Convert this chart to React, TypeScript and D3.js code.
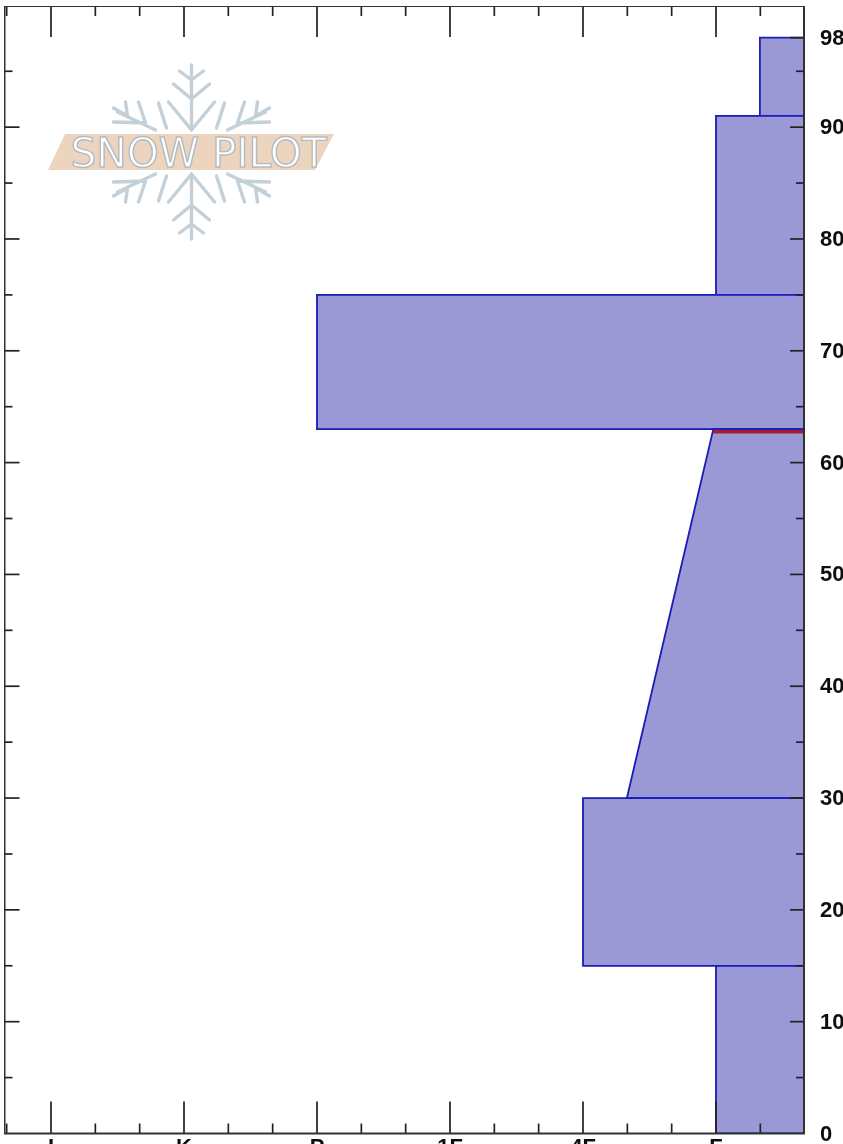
import React from 'react';
import * as d3 from 'd3';

// hand hardness, drawn on a reversed index scale: F=1 ... I=6
const hardnessLabels = ['F', '4F', '1F', 'P', 'K', 'I'];
const hardnessValues = [1, 2, 3, 4, 5, 6];
const depthTicks = [0, 10, 20, 30, 40, 50, 60, 70, 80, 90, 98];
const layerTops = [98, 91, 75, 63, 30, 15];
const layerBottoms = [91, 75, 63, 30, 15, 0];
const hardnessTop = [0.67, 1, 4, 1.02, 2, 1];
const hardnessBottom = [0.67, 1, 4, 1.67, 2, 1];
const crustDepth = 62.75;

const width = 843;
const height = 1144;
const left = 4.5;
const right = 804;
const top = 6;
const bottom = 1133.5;

const x = d3.scaleLinear().domain([1, 6]).range([716, 51]);
const y = d3.scaleLinear().domain([0, 98]).range([bottom, 37.7]);
const xMin = x.invert(right);

const minorX = d3.range(-1, 20).map(i => i / 3).filter(v => v > xMin + 0.01 && v < 6.34);
const ticksY = d3.range(5, 100, 5);

const layerPath = d3.line<number[]>().x(d => x(d[0])).y(d => y(d[1]));

function Logo() {
    const arm = d3.path();
    const seg = (a: number, b: number, c: number, d: number) => { arm.moveTo(a, b); arm.lineTo(c, d); };
    // vertical arm, pointing up from the flake centre
    seg(0, -22, 0, -87);
    seg(0, -22, -23, -50); seg(0, -22, 23, -50);
    seg(0, -53, -18, -68); seg(0, -53, 18, -68);
    seg(0, -72, -12, -81); seg(0, -72, 12, -81);
    const side = d3.path();
    const sideSeg = (a: number, b: number, c: number, d: number) => { side.moveTo(a, b); side.lineTo(c, d); };
    // upper left arm; the others are mirrored
    sideSeg(-36, -22, -74, -40);
    sideSeg(-46, -29, -78, -30);
    sideSeg(-46, -29, -53, -50);
    sideSeg(-64, -36, -78, -44);
    sideSeg(-64, -36, -66, -50);
    sideSeg(-25, -24, -33, -49);
    return (
        <g transform="translate(191.5,152)">
            <g fill="none" stroke="#c4d0d8" strokeWidth={3.4} strokeLinecap="round">
                <path d={arm.toString()} />
                <path d={arm.toString()} transform="scale(1,-1)" />
                <path d={side.toString()} />
                <path d={side.toString()} transform="scale(-1,1)" />
                <path d={side.toString()} transform="scale(1,-1)" />
                <path d={side.toString()} transform="scale(-1,-1)" />
            </g>
            <polygon points="-126.500,-18 142.500,-18 123.500,18 -143.500,18" fill="#ecd4bf" />
            <text x={-121} y={14.500} fontFamily="DejaVu Sans" fontSize={40} textLength={256}
                lengthAdjust="spacingAndGlyphs" fill="#ffffff" stroke="#b4bbc0" strokeWidth={1.4}>SNOW PILOT</text>
        </g>
    );
}

export default function App() {
    return (
        <svg width={width} height={height} style={{ position: 'absolute', left: 0, top: 0 }}>
            <defs>
                <clipPath id="plot"><rect x={left} y={top} width={right - left} height={bottom - top} /></clipPath>
                <filter id="soft" x="0" y="0" width="100%" height="100%"><feGaussianBlur stdDeviation={0.45} /></filter>
            </defs>
            <g filter="url(#soft)">
                <Logo />
                <g clipPath="url(#plot)">
                    {layerTops.map((d, i) => {
                        const pts = [
                            [xMin - 1, d],
                            [hardnessTop[i], d],
                            [hardnessBottom[i], layerBottoms[i]],
                            [xMin - 1, layerBottoms[i]],
                        ];
                        return <path key={i} d={layerPath(pts) + 'Z'} fill="#9a99d6" stroke="#1a1ab8" strokeWidth={1.8} />;
                    })}
                    <line x1={x(hardnessTop[3])} x2={right} y1={y(crustDepth)} y2={y(crustDepth)} stroke="#a81c2e" strokeWidth={3.5} />
                </g>
                <g stroke="#222" strokeWidth={1.7} fill="none">
                    {hardnessValues.map(v => (
                        <g key={v}>
                            <line x1={x(v)} x2={x(v)} y1={top} y2={top + 31} />
                            <line x1={x(v)} x2={x(v)} y1={bottom} y2={bottom - 32} />
                        </g>
                    ))}
                    {minorX.filter(v => !hardnessValues.includes(Math.round(v * 1000) / 1000)).map(v => (
                        <g key={v}>
                            <line x1={x(v)} x2={x(v)} y1={top} y2={top + 10} />
                            <line x1={x(v)} x2={x(v)} y1={bottom} y2={bottom - 10} />
                        </g>
                    ))}
                    {ticksY.map(v => {
                        const long = v % 10 === 0;
                        return (
                            <g key={v}>
                                <line x1={left} x2={left + (long ? 15 : 8)} y1={y(v)} y2={y(v)} />
                                <line x1={right} x2={right - (long ? 14 : 8)} y1={y(v)} y2={y(v)} />
                            </g>
                        );
                    })}
                    <line x1={right} x2={right - 14} y1={y(98)} y2={y(98)} />
                    <rect x={left} y={top} width={right - left} height={bottom - top} strokeWidth={2} stroke="#333" />
                </g>
                <g fontFamily="Liberation Sans" fontWeight="bold" fontSize={22} fill="#111">
                    {depthTicks.map(v => (
                        <text key={v} x={820} y={y(v) + 7}>{v}</text>
                    ))}
                    {hardnessLabels.map((l, i) => (
                        <text key={l} x={x(hardnessValues[i])} y={1154} textAnchor="middle">{l}</text>
                    ))}
                </g>
            </g>
        </svg>
    );
}
